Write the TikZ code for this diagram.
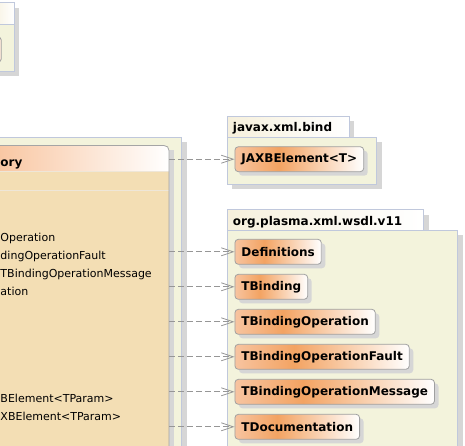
\documentclass[tikz,border=0pt]{standalone}
\usepackage{fontspec}
\setmainfont{DejaVu Sans}
\usetikzlibrary{arrows.meta,shadows}
\definecolor{pkgfill}{RGB}{243,243,220}
\definecolor{pkgborder}{RGB}{192,200,220}
\definecolor{tabL}{RGB}{246,240,220}
\definecolor{shadowgray}{RGB}{214,214,214}
\definecolor{classbody}{RGB}{243,222,180}
\definecolor{sepline}{RGB}{238,230,216}
\definecolor{clsborder}{RGB}{165,165,165}
\definecolor{headL}{RGB}{248,196,158}
\definecolor{nodeL}{RGB}{247,196,160}
\definecolor{nodeM}{RGB}{243,163,98}
\definecolor{nodeborder}{RGB}{160,160,160}
\definecolor{arrowgray}{RGB}{150,150,150}
\pgfdeclarehorizontalshading{nodegrad}{100bp}{color(0bp)=(nodeL); color(25bp)=(nodeL); color(42bp)=(nodeM); color(75bp)=(white); color(100bp)=(white)}
\tikzset{
  pkgbody/.style={fill=pkgfill, draw=pkgborder, line width=0.8pt},
  pkgtab/.style={left color=tabL, right color=white, draw=pkgborder, line width=0.8pt},
  shadowbox/.style={fill=shadowgray},
  elem/.style={draw=nodeborder, line width=0.8pt, rounded corners=3.5pt, shading=nodegrad,
    minimum height=25pt, inner xsep=6.5pt, inner ysep=0pt, anchor=west,
    font=\fontsize{12}{14}\selectfont\bfseries,
    drop shadow={shadow xshift=4pt, shadow yshift=-4pt, fill=shadowgray, opacity=1}},
  dep/.style={draw=arrowgray, line width=0.8pt, dash pattern=on 6pt off 3pt,
    -{Straight Barb[length=12pt,width=8pt]}},
  member/.style={anchor=base west, inner sep=0pt, font=\fontsize{11}{13}\selectfont},
  pkglabel/.style={anchor=base west, inner sep=0pt, font=\fontsize{12}{14}\selectfont\bfseries},
}
\begin{document}
\begin{tikzpicture}[x=1pt,y=-1pt]
\useasboundingbox (0,0) rectangle (465,445);
\clip (0,0) rectangle (465,445);
\fill[white] (0,0) rectangle (465,445);

% top-left package (partly visible)
\fill[shadowbox] (-10,7.5) rectangle (19,75.5);
\path[pkgtab] (-10,2.5) rectangle (14.5,24);
\path[pkgbody] (-10,24) rectangle (14.5,71);
\draw[draw=nodeborder, line width=0.8pt, fill=white!60!nodeL, rounded corners=3pt] (-40,37) rectangle (1.2,62);

% big package with the factory class
\fill[shadowbox] (-10,142) rectangle (186.5,460);
\path[pkgbody] (-10,137) rectangle (181.5,460);
\fill[shadowbox] (-10,150) rectangle (173.5,460);
\path[left color=headL, right color=white] (-10,171) -- (-10,145.5) -- (164,145.5)
   .. controls (167,145.5) and (169,147.5) .. (169,150.5) -- (169,171) -- cycle;
\fill[classbody] (-10,171) rectangle (169,460);
\draw[sepline, line width=0.8pt] (-10,171) -- (169,171) (-10,190) -- (169,190);
\draw[clsborder, line width=0.8pt] (-10,145.5) -- (164,145.5)
   .. controls (167,145.5) and (169,147.5) .. (169,150.5) -- (169,460);
\coordinate (clsE) at (169,300);

\node[anchor=base west, inner sep=0pt, font=\fontsize{12}{14}\selectfont\bfseries] (clsname) at (0.3,166) {ory};
\node[member] (m1) at (0.3,241) {Operation};
\node[member] (m2) at (0.3,259) {dingOperationFault};
\node[member] (m3) at (0.3,277) {TBindingOperationMessage};
\node[member] (m4) at (0.3,295) {ation};
\node[member] (m5) at (0.3,402) {BElement<TParam>};
\node[member] (m6) at (0.3,420) {XBElement<TParam>};

% javax.xml.bind package
\fill[shadowbox] (232,121) rectangle (354,137);
\fill[shadowbox] (232,142) rectangle (381.5,189);
\path[pkgtab] (227,116) rectangle (349,137);
\path[pkgbody] (227,137) rectangle (376.5,184);
\node[pkglabel] (p1) at (232.7,131.5) {javax.xml.bind};

% org.plasma.xml.wsdl.v11 package
\fill[shadowbox] (232,214.5) rectangle (428.5,230);
\fill[shadowbox] (232,235) rectangle (462.5,460);
\path[pkgtab] (227,209.5) rectangle (423.3,230);
\path[pkgbody] (227,230) rectangle (457.3,460);
\node[pkglabel] (p2) at (232.7,225) {org.plasma.xml.wsdl.v11};

\node[elem] (jaxb) at (234.5,159.2) {JAXBElement<T>};
\node[elem] (defs) at (234.5,251.8) {Definitions};
\node[elem] (tb) at (234.5,286.8) {TBinding};
\node[elem] (tbo) at (234.5,321.8) {TBindingOperation};
\node[elem] (tbof) at (234.5,356.8) {TBindingOperationFault};
\node[elem] (tbom) at (234.5,391.8) {TBindingOperationMessage};
\node[elem] (tdoc) at (234.5,426.8) {TDocumentation};

\foreach \n in {jaxb,defs,tb,tbo,tbof,tbom,tdoc}
  \draw[dep] (clsE |- \n.west) -- (\n.west);
\end{tikzpicture}
\end{document}
